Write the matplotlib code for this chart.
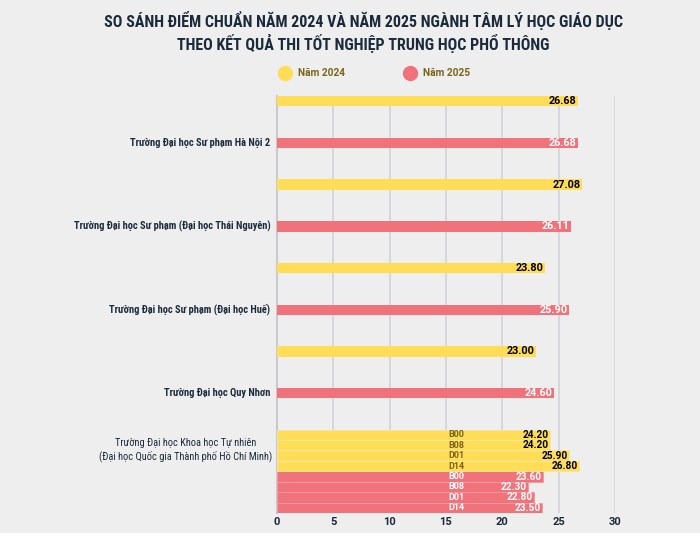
import matplotlib
matplotlib.use("Agg")
import matplotlib.pyplot as plt
from matplotlib.lines import Line2D

plt.rcParams['font.family'] = ['Roboto Condensed', 'Liberation Sans Narrow', 'DejaVu Sans']
plt.rcParams['font.stretch'] = 'condensed'
so = ['Roboto', 'DejaVu Sans']

truong = [
    'Trường Đại học Sư phạm Hà Nội 2',
    'Trường Đại học Sư phạm (Đại học Thái Nguyên)',
    'Trường Đại học Sư phạm (Đại học Huế)',
    'Trường Đại học Quy Nhơn',
]
diem_2024 = [26.68, 27.08, 23.80, 23.00]
diem_2025 = [26.68, 26.11, 25.90, 24.60]

truong_khtn = 'Trường Đại học Khoa học Tự nhiên\n(Đại học Quốc gia Thành phố Hồ Chí Minh)'
to_hop = ['B00', 'B08', 'D01', 'D14']
khtn_2024 = [24.20, 24.20, 25.90, 26.80]
khtn_2025 = [23.60, 22.30, 22.80, 23.50]

vang = '#FFDD57'
do = '#F0737B'
nen = '#EEEEEE'
chu = '#1B2A3B'

fig = plt.figure(figsize=(7, 5.33), dpi=100, facecolor=nen)
ax = fig.add_axes([277/700, 1 - 513/533, 338/700, 417/533], facecolor=nen)

h = 0.25
for i in range(len(truong)):
    ax.barh(2 * i, diem_2024[i], height=h, color=vang, zorder=3)
    ax.barh(2 * i + 1, diem_2025[i], height=h, color=do, zorder=3)
    ax.text(diem_2024[i] - 0.12, 2 * i, f'{diem_2024[i]:.2f}', ha='right', va='center',
            fontsize=7.8, fontweight='bold', family=so, fontstretch='normal',
            color='black', zorder=4)
    ax.text(diem_2025[i] - 0.12, 2 * i + 1, f'{diem_2025[i]:.2f}', ha='right', va='center',
            fontsize=7.8, fontweight='bold', family=so, fontstretch='normal',
            color='white', zorder=4)
    ax.text(-0.6, 2 * i + 1, truong[i], ha='right', va='center', fontsize=7.5,
            fontweight='semibold', color=chu)

for k in range(len(to_hop)):
    y1 = 8 + h * k
    y2 = 9 + h * k
    ax.barh(y1, khtn_2024[k], height=h, color=vang, zorder=3,
            edgecolor='#F5E7A8', linewidth=0.6)
    ax.barh(y2, khtn_2025[k], height=h, color=do, zorder=3,
            edgecolor='#F29AA0', linewidth=0.6)
    ax.text(khtn_2024[k] - 0.12, y1, f'{khtn_2024[k]:.2f}', ha='right', va='center',
            fontsize=7.3, fontweight='bold', family=so, fontstretch='normal',
            color='black', zorder=4)
    ax.text(khtn_2025[k] - 0.12, y2, f'{khtn_2025[k]:.2f}', ha='right', va='center',
            fontsize=7.3, fontweight='bold', family=so, fontstretch='normal',
            color='white', zorder=4)
    ax.text(15.9, y1, to_hop[k], ha='center', va='center', fontsize=6.5,
            fontweight='bold', family=so, fontstretch='normal', color='#7A6418', zorder=4)
    ax.text(15.9, y2, to_hop[k], ha='center', va='center', fontsize=6.5,
            fontweight='bold', family=so, fontstretch='normal', color='white', zorder=4)

ax.text(-0.4, 8.375, truong_khtn, ha='right', va='center', multialignment='center',
        fontsize=7.5, color=chu, linespacing=1.3)

ax.set_xlim(0, 30)
ax.set_ylim(9.875, -0.125)
ax.set_xticks(range(0, 31, 5))
ax.set_yticks([])
ax.grid(axis='x', color='#D3D5D8', linewidth=1.3, zorder=0)
for s in ['top', 'right', 'bottom']:
    ax.spines[s].set_visible(False)
ax.spines['left'].set_color('#C8CACD')
ax.spines['left'].set_linewidth(1.5)
ax.tick_params(axis='x', length=0, pad=3, labelcolor=chu, labelsize=8)
for t in ax.get_xticklabels():
    t.set_fontweight('bold')
    t.set_family(so)
    t.set_fontstretch('normal')

fig.text(363/700, 1 - 21/533, 'SO SÁNH ĐIỂM CHUẨN NĂM 2024 VÀ NĂM 2025 NGÀNH TÂM LÝ HỌC GIÁO DỤC',
         ha='center', va='center', fontsize=11.5, fontweight='bold', color=chu)
fig.text(363/700, 1 - 43/533, 'THEO KẾT QUẢ THI TỐT NGHIỆP TRUNG HỌC PHỔ THÔNG',
         ha='center', va='center', fontsize=11.5, fontweight='bold', color=chu)

fig.add_artist(Line2D([285/700], [1 - 73/533], marker='o', markersize=10, color=vang,
                      transform=fig.transFigure))
fig.add_artist(Line2D([410/700], [1 - 73/533], marker='o', markersize=10, color=do,
                      transform=fig.transFigure))
fig.text(298/700, 1 - 73/533, 'Năm 2024', ha='left', va='center', fontsize=7.3,
         fontweight='bold', family=so, fontstretch='normal', color='#7A6418')
fig.text(423/700, 1 - 73/533, 'Năm 2025', ha='left', va='center', fontsize=7.3,
         fontweight='bold', family=so, fontstretch='normal', color='#7A6418')

fig.savefig('out.png', dpi=100, facecolor=nen)
